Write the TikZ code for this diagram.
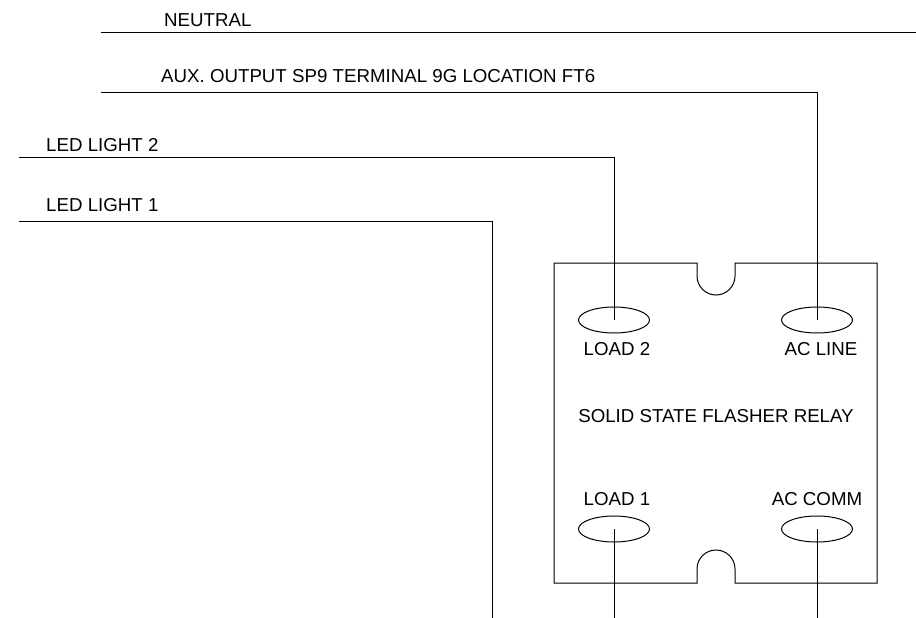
\documentclass[tikz,border=0pt]{standalone}
\usepackage{fontspec}
\setmainfont{Liberation Sans}
\usetikzlibrary{shapes.geometric}

\tikzset{
  lbl/.style={font=\fontsize{18.7}{22}\selectfont, inner sep=0pt},
  pad/.style={draw, ellipse, minimum width=71pt, minimum height=26pt, inner sep=0pt},
  wire/.style={line width=1pt}
}

\begin{document}
\begin{tikzpicture}[x=1pt,y=1pt,yscale=-1,xscale=1]
  \path[use as bounding box] (0,0) rectangle (916,618); %set diagram 916 x 618

  %Shape: Relay body with notches
  \draw[wire] (554,263) -- (697,263) -- (697,276) .. controls (697,286.5) and (705.5,295) .. (716,295) .. controls (726.5,295) and (735,286.5) .. (735,276) -- (735,263) -- (877,263) -- (877,583) -- (735,583) -- (735,569) .. controls (735,558.5) and (726.5,550) .. (716,550) .. controls (705.5,550) and (697,558.5) .. (697,569) -- (697,583) -- (554,583) -- cycle ;

  %Shape: Terminals
  \node[pad, wire] (load2) at (614,320) {};
  \node[pad, wire] (acline) at (817,320) {};
  \node[pad, wire] (load1) at (614,529) {};
  \node[pad, wire] (accomm) at (817,529) {};

  %Wire ends
  \coordinate (neutralA) at (101,33);
  \coordinate (neutralB) at (916,33);
  \coordinate (auxA) at (101,93);
  \coordinate (led2A) at (19,157);
  \coordinate (led1A) at (19,221);
  \coordinate (led1B) at (492,618);
  \coordinate (load1B) at (614,618);
  \coordinate (accommB) at (817,618);

  %Straight Lines
  \draw[wire] (neutralA) -- (neutralB) ;
  \draw[wire] (auxA) -| (acline.center) ;
  \draw[wire] (led2A) -| (load2.center) ;
  \draw[wire] (led1A) -| (led1B) ;
  \draw[wire] (load1.center) -- (load1B) ;
  \draw[wire] (accomm.center) -- (accommB) ;

  % Text Node
  \node[lbl, anchor=base west] (neutral) at (164,27) {NEUTRAL};
  % Text Node
  \node[lbl, anchor=base west] (aux) at (161,82) {AUX. OUTPUT SP9 TERMINAL 9G LOCATION FT6};
  % Text Node
  \node[lbl, anchor=base west] (led2) at (46,151) {LED LIGHT 2};
  % Text Node
  \node[lbl, anchor=base west] (led1) at (46,211) {LED LIGHT 1};
  % Text Node
  \node[lbl, anchor=base] (load2lbl) at (617,355) {LOAD 2};
  % Text Node
  \node[lbl, anchor=base] (aclinelbl) at (821,355) {AC LINE};
  % Text Node
  \node[lbl, anchor=base] (relay) at (716,422) {SOLID STATE FLASHER RELAY};
  % Text Node
  \node[lbl, anchor=base] (load1lbl) at (617,505) {LOAD 1};
  % Text Node
  \node[lbl, anchor=base] (accommlbl) at (817,505) {AC COMM};
\end{tikzpicture}
\end{document}
